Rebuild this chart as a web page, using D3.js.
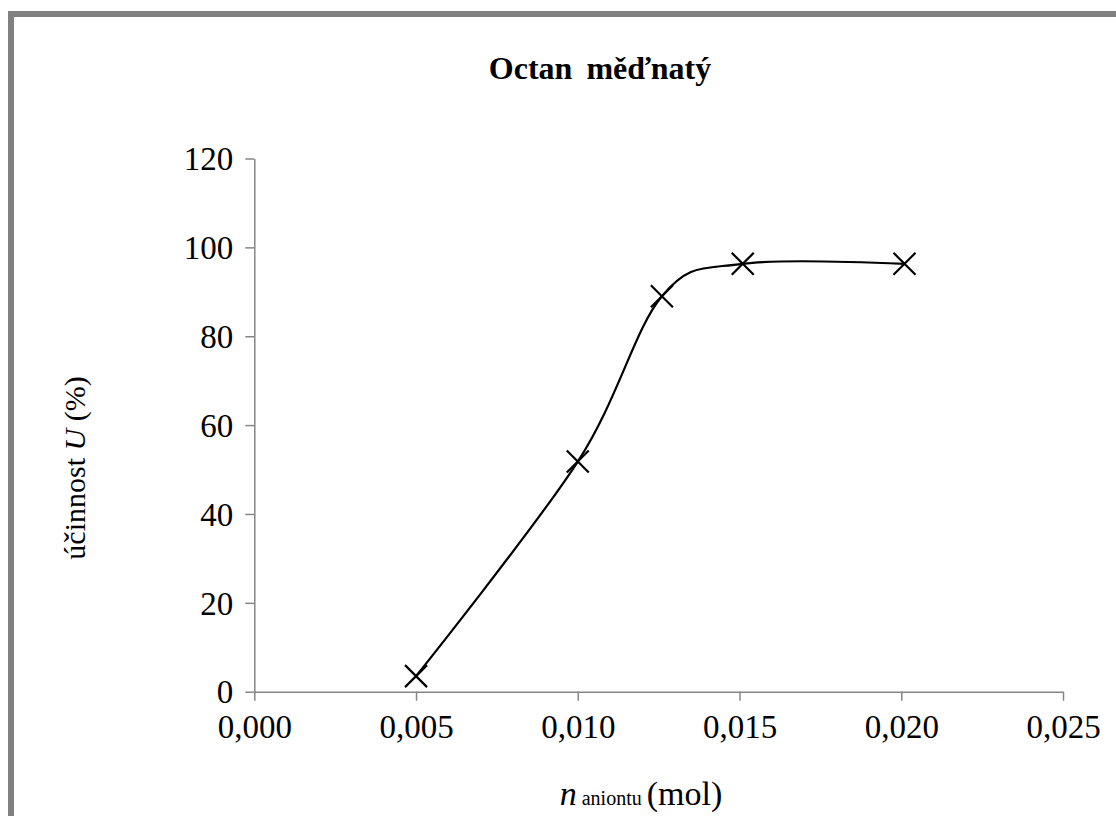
<!DOCTYPE html>
<html>
<head>
<meta charset="utf-8">
<script src="https://cdn.jsdelivr.net/npm/d3@7"></script>
<style>
  html, body { margin: 0; padding: 0; background: #fff; }
  svg { display: block; }
  text { font-family: "Liberation Serif", "DejaVu Serif", "Times New Roman", serif; }
</style>
</head>
<body>
<svg id="chart" width="1116" height="816"></svg>
<script>
// ---- data ----
const title = "Octan měďnatý";
const xValues = [0.0050, 0.0100, 0.0126, 0.0151, 0.0201];
const yValues = [3.5, 51.8, 89.0, 96.3, 96.3];
const xTicks = [0, 0.005, 0.010, 0.015, 0.020, 0.025];
const yTicks = [0, 20, 40, 60, 80, 100, 120];

// ---- layout ----
const W = 1116, H = 816;
const svg = d3.select("#chart");
const fontFamily = '"Liberation Serif", "DejaVu Serif", "Times New Roman", serif';
const axisColor = "#868686";

// frame
svg.append("rect")
  .attr("x", 11).attr("y", 14)
  .attr("width", W + 20).attr("height", H + 20)
  .attr("fill", "none")
  .attr("stroke", "#808080")
  .attr("stroke-width", 6);

const x = d3.scaleLinear().domain([0, 0.025]).range([254.3, 1063]);
const y = d3.scaleLinear().domain([0, 120]).range([691.7, 158.5]);

// axes
const fmt = d => d3.format(".3f")(d).replace(".", ",");
const xAxis = d3.axisBottom(x).tickValues(xTicks).tickFormat(fmt).tickSize(9).tickSizeOuter(0).tickPadding(14);
const yAxis = d3.axisLeft(y).tickValues(yTicks).tickFormat(d3.format("d")).tickSize(9).tickSizeOuter(0).tickPadding(12);

const gx = svg.append("g").attr("transform", `translate(0,${y(0)})`).call(xAxis);
const gy = svg.append("g").attr("transform", `translate(${x(0)},0)`).call(yAxis);

[gx, gy].forEach(g => {
  g.attr("font-family", null);
  g.select(".domain").attr("stroke", axisColor).attr("stroke-width", 1.5);
  g.selectAll(".tick line").attr("stroke", axisColor).attr("stroke-width", 1.5);
  g.selectAll(".tick text")
    .attr("fill", "#000")
    .style("font-family", fontFamily)
    .style("font-size", "33px");
});
gx.selectAll(".tick text").attr("dy", "0.71em");
gy.selectAll(".tick text").attr("dy", "0.34em");

// line (smoothed)
const pts = xValues.map((v, i) => [v, yValues[i]]);
const line = d3.line()
  .x(d => x(d[0]))
  .y(d => y(d[1]))
  .curve(d3.curveCardinal.tension(0));

svg.append("path")
  .datum(pts)
  .attr("d", line)
  .attr("fill", "none")
  .attr("stroke", "#000")
  .attr("stroke-width", 2.2);

// markers (X)
const ms = 11;
const mk = svg.append("g");
pts.forEach(p => {
  const cx = x(p[0]), cy = y(p[1]);
  mk.append("path")
    .attr("d", `M${cx - ms},${cy - ms}L${cx + ms},${cy + ms}M${cx - ms},${cy + ms}L${cx + ms},${cy - ms}`)
    .attr("stroke", "#000")
    .attr("stroke-width", 2.2)
    .attr("fill", "none");
});

// title
svg.append("text")
  .attr("x", 600).attr("y", 79)
  .attr("text-anchor", "middle")
  .style("font-family", fontFamily)
  .style("font-size", "32px")
  .style("font-weight", "bold")
  .style("word-spacing", "6px")
  .attr("fill", "#000")
  .text(title);

// y-axis title
const yt = svg.append("text")
  .attr("transform", "translate(85,468) rotate(-90)")
  .attr("text-anchor", "middle")
  .style("font-family", fontFamily)
  .style("font-size", "30px")
  .attr("fill", "#000");
yt.append("tspan").text("účinnost ");
yt.append("tspan").style("font-style", "italic").text("U");
yt.append("tspan").text(" (%)");

// x-axis title
const xt = svg.append("text")
  .attr("x", 641).attr("y", 805)
  .attr("text-anchor", "middle")
  .style("font-family", fontFamily)
  .style("font-size", "34px")
  .attr("fill", "#000");
xt.append("tspan").style("font-style", "italic").text("n");
xt.append("tspan").style("font-size", "20px").text(" aniontu ");
xt.append("tspan").text("(mol)");
</script>
</body>
</html>
